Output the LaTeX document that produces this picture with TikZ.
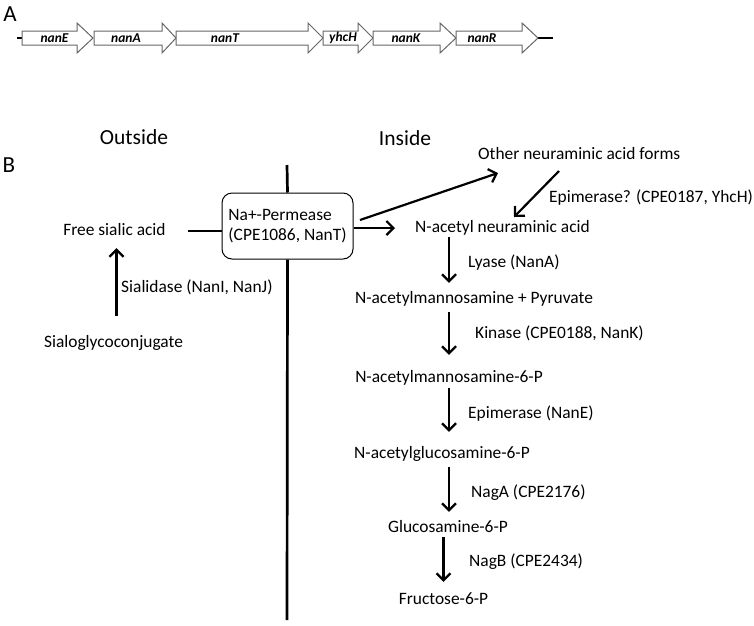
\documentclass[tikz,border=0pt]{standalone}
\usepackage{fontspec}
\setmainfont{Carlito}
\usetikzlibrary{arrows.meta,calc}
\tikzset{
  lbl/.style={inner sep=0pt, font=\fontsize{17.4}{20}\selectfont, text height=12pt, text depth=4pt},
  big/.style={inner sep=0pt, font=\fontsize{21.5}{24}\selectfont},
  panel/.style={inner sep=0pt, font=\fontsize{23}{26}\selectfont},
  arr/.style={line width=2.2pt, -{Straight Barb[length=7pt,width=14pt]}},
  plain/.style={line width=2.2pt},
  gene/.style={draw=black!60, fill=white, line width=1pt, line join=miter},
  gtext/.style={font=\fontsize{13.5}{16}\selectfont\bfseries\itshape, inner sep=0pt}
}
\newcommand\genebox[3]{%
  \draw[gene] (#1,31) -- (#2,31) -- (#2,23) -- (#3,38) -- (#2,53) -- (#2,45) -- (#1,45) -- cycle;}
\begin{document}
\begin{tikzpicture}[x=1pt,y=-1pt]
\useasboundingbox (0,0) rectangle (754,625);
% ---------- Panel A ----------
\node[panel] (pA) at (10,14) {A};
\coordinate (gs) at (17,38);
\coordinate (ge) at (553,38);
\draw[line width=1.6pt] (gs) -- (22,38);
\draw[line width=1.6pt] (538,38) -- (ge);
\genebox{22}{77}{93}
\genebox{94}{162}{176}
\genebox{176}{308}{323}
\genebox{323}{358}{373}
\genebox{373}{440}{456}
\genebox{456}{522}{538}
\node[gtext] (gE) at (54.5,38) {nanE};
\node[gtext] (gA) at (126,38) {nanA};
\node[gtext] (gT) at (225,38) {nanT};
\node[gtext] (gH) at (343,38) {yhcH};
\node[gtext] (gK) at (406,38) {nanK};
\node[gtext] (gR) at (482,38) {nanR};
% ---------- Panel B ----------
\node[panel] (pB) at (9,165) {B};
\node[big] (out) at (134,137) {Outside};
\node[big] (ins) at (405,138) {Inside};
\coordinate (vtop) at (287,165);
\coordinate (vbot) at (287,620);
\node[draw, line width=1pt, rounded corners=10pt, minimum width=131pt, minimum height=66pt,
      align=left, inner sep=0pt, font=\fontsize{17.4}{20}\selectfont] (perm) at (287.5,226)
      {Na+-Permease\\(CPE1086, NanT)};
\draw[line width=2.7pt] (vtop) -- (perm.north);
\draw[line width=2.7pt] (perm.south) -- (vbot);
\node[lbl] (free) at (114.5,231) {Free sialic acid};
\node[lbl] (sialo) at (113.5,343) {Sialoglycoconjugate};
\node[lbl, anchor=west] (sialidase) at (121,288) {Sialidase (NanI, NanJ)};
\draw[plain, shorten <=22pt] (free.east) -- (free.east -| perm.west);
\draw[arr, shorten <=19pt, shorten >=9pt] ([xshift=3pt]sialo.north) -- ([xshift=3pt]sialo.north |- free.south);
% inside
\node[lbl, anchor=west] (other) at (478,155) {Other neuraminic acid forms};
\node[lbl, anchor=west] (epiq) at (549,198) {Epimerase? (CPE0187, YhcH)};
\node[lbl, anchor=west] (neu) at (415,228) {N-acetyl neuraminic acid};
\node[lbl] (pyr) at (474,299) {N-acetylmannosamine + Pyruvate};
\node[lbl] (m6p) at (449,378) {N-acetylmannosamine-6-P};
\node[lbl] (g6p) at (442,454) {N-acetylglucosamine-6-P};
\node[lbl] (gluc) at (448,528) {Glucosamine-6-P};
\node[lbl] (fru) at (443.5,600) {Fructose-6-P};
\node[lbl, anchor=west] (lyase) at (468,263) {Lyase (NanA)};
\node[lbl, anchor=west] (kin) at (475,334) {Kinase (CPE0188, NanK)};
\node[lbl, anchor=west] (epi) at (468,414) {Epimerase (NanE)};
\node[lbl, anchor=west] (nagA) at (471,493) {NagA (CPE2176)};
\node[lbl, anchor=west] (nagB) at (469,562) {NagB (CPE2434)};
\coordinate (d1s) at (360,220);
\coordinate (d1e) at (498,173);
\coordinate (d2s) at (559,171);
\coordinate (d2e) at (514,217);
\draw[arr, shorten >=20pt] (perm.east |- neu.west) -- (neu.west);
\draw[arr] (d1s) -- (d1e);
\draw[arr] (d2s) -- (d2e);
\draw[arr, shorten <=1pt, shorten >=8pt] (neu.south -| m6p) -- (pyr.north -| m6p);
\draw[arr, shorten <=5pt, shorten >=15pt] (pyr.south -| m6p) -- (m6p.north);
\draw[arr, shorten <=2pt, shorten >=14pt] (m6p.south) -- (g6p.north -| m6p);
\draw[arr, shorten <=5pt, shorten >=8pt] (g6p.south -| m6p) -- (gluc.north -| m6p);
\draw[arr, shorten <=1pt, shorten >=10pt] (gluc.south -| fru) -- (fru.north);
\end{tikzpicture}
\end{document}
